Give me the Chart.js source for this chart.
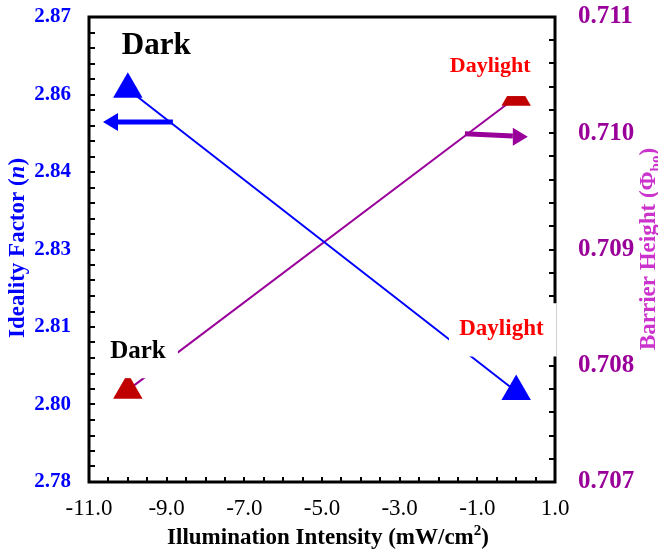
<!DOCTYPE html>
<html>
<head>
<meta charset="utf-8">
<script src="https://cdn.jsdelivr.net/npm/chart.js@4.4.1/dist/chart.umd.min.js"></script>
<style>
  body { margin: 0; background: #ffffff; }
  #wrap { width: 658px; height: 551px; }
</style>
</head>
<body>
<div id="wrap"><canvas id="illumChart" width="658" height="551"></canvas></div>
<script>
// Data Start
const intensity = [-10, 0];
const idealityFactor = [2.856, 2.7975];
const barrierHeight = [0.70779, 0.71031];

const xTicks = [-11, -9, -7, -5, -3, -1, 1];
const leftTicks = [2.78, 2.795, 2.81, 2.825, 2.84, 2.855, 2.87];
const leftTickLabels = ['2.78', '2.80', '2.81', '2.83', '2.84', '2.86', '2.87'];
const rightTicks = [0.707, 0.708, 0.709, 0.710, 0.711];

const serif = 'Liberation Serif';

// frame, inner ticks, labels and arrows
const annotationPlugin = {
  id: 'annotations',
  afterDatasetsDraw(chart) {
    const ctx = chart.ctx;
    const a = chart.chartArea;
    const x = chart.scales.x, y = chart.scales.y, y1 = chart.scales.y1;

    ctx.save();
    // frame
    ctx.strokeStyle = '#000';
    ctx.lineWidth = 3;
    ctx.strokeRect(a.left, a.top, a.right - a.left, a.bottom - a.top);

    // inner ticks
    ctx.lineWidth = 2;
    ctx.beginPath();
    for (let i = 1; i < 24; i++) {
      const px = Math.round(x.getPixelForValue(-11 + i * 0.5));
      ctx.moveTo(px, a.bottom); ctx.lineTo(px, a.bottom - 5);
    }
    for (let i = 1; i < 30; i++) {
      const py = Math.round(y.getPixelForValue(2.78 + i * 0.003));
      ctx.moveTo(a.left, py); ctx.lineTo(a.left + 6, py);
    }
    for (let i = 1; i < 20; i++) {
      const py = Math.round(y1.getPixelForValue(0.707 + i * 0.0002));
      ctx.moveTo(a.right, py); ctx.lineTo(a.right - 6, py);
    }
    ctx.stroke();

    // white boxes behind labels
    const box = (x0, x1, v0, v1) => {
      const l = x.getPixelForValue(x0), r = x.getPixelForValue(x1);
      const t = y.getPixelForValue(v0), b = y.getPixelForValue(v1);
      ctx.fillStyle = '#fff';
      ctx.fillRect(l, t, r - l, b - t);
    };
    box(-1.83, 0.61, 2.8644, 2.8547);
    box(-1.73, 1.12, 2.8146, 2.8043);
    box(-10.72, -8.71, 2.8103, 2.8001);
    ctx.strokeStyle = '#d0d0d0';
    ctx.lineWidth = 1;
    ctx.beginPath();
    ctx.moveTo(556.5, y.getPixelForValue(2.8146));
    ctx.lineTo(556.5, y.getPixelForValue(2.8043));
    ctx.stroke();

    // text labels
    const label = (txt, xv, yv, font, color) => {
      ctx.font = font;
      ctx.fillStyle = color;
      ctx.textAlign = 'center';
      ctx.textBaseline = 'middle';
      ctx.fillText(txt, x.getPixelForValue(xv), y.getPixelForValue(yv));
    };
    label('Dark', -9.27, 2.8644, 'bold 31px ' + serif, '#000');
    label('Daylight', -0.67, 2.8605, 'bold 22px ' + serif, '#ff0000');
    label('Daylight', -0.38, 2.8096, 'bold 23px ' + serif, '#ff0000');
    label('Dark', -9.74, 2.8053, 'bold 25px ' + serif, '#000');

    // arrows
    const arrow = (x0, x1, p0, p1, color) => {
      const sx = x.getPixelForValue(x0), ex = x.getPixelForValue(x1);
      const dir = Math.sign(ex - sx);
      const hx = ex - dir * 15;
      ctx.strokeStyle = color;
      ctx.fillStyle = color;
      ctx.lineWidth = 5;
      ctx.beginPath();
      ctx.moveTo(sx, p0);
      ctx.lineTo(hx, p0 + (p1 - p0) * (hx - sx) / (ex - sx));
      ctx.stroke();
      ctx.beginPath();
      ctx.moveTo(ex, p1);
      ctx.lineTo(hx, p1 - 9);
      ctx.lineTo(hx, p1 + 9);
      ctx.closePath();
      ctx.fill();
    };
    arrow(-8.84, -10.64, y.getPixelForValue(2.8497), y.getPixelForValue(2.8497), '#0000ff');
    arrow(-1.32, 0.30, y1.getPixelForValue(0.709996), y1.getPixelForValue(0.70997), '#990099');

    // axis titles
    const rich = (parts, cx, cy, rot, color) => {
      ctx.save();
      ctx.translate(cx, cy);
      ctx.rotate(rot);
      ctx.fillStyle = color;
      ctx.textAlign = 'left';
      ctx.textBaseline = 'alphabetic';
      let w = 0;
      parts.forEach(p => { ctx.font = p.font; w += ctx.measureText(p.text).width; });
      let px = -w / 2;
      parts.forEach(p => {
        ctx.font = p.font;
        ctx.fillText(p.text, px, p.dy || 0);
        px += ctx.measureText(p.text).width;
      });
      ctx.restore();
    };
    const b23 = 'bold 23px ' + serif;
    rich([
      { text: 'Illumination Intensity (mW/cm', font: b23 },
      { text: '2', font: 'bold 15px ' + serif, dy: -9 },
      { text: ')', font: b23 }
    ], 328, 544, 0, '#000');
    rich([
      { text: 'Ideality Factor (', font: b23 },
      { text: 'n', font: 'italic bold 23px ' + serif },
      { text: ')', font: b23 }
    ], 24, 248, -Math.PI / 2, '#0000ff');
    rich([
      { text: 'Barrier Height (\u03A6', font: 'bold 23px ' + serif },
      { text: 'bo', font: 'bold 15px ' + serif, dy: 5 },
      { text: ')', font: 'bold 23px ' + serif }
    ], 655, 249, -Math.PI / 2, '#cc33cc');

    ctx.restore();
  }
};

// Chart Start
const ctx = document.getElementById('illumChart').getContext('2d');
const illumChart = new Chart(ctx, {
  type: 'scatter',
  data: {
    datasets: [
      {
        label: 'Ideality Factor',
        data: intensity.map((v, i) => ({ x: v, y: idealityFactor[i] })),
        yAxisID: 'y',
        showLine: true,
        borderColor: '#0000ff',
        borderWidth: 2,
        pointStyle: 'triangle',
        pointRadius: 17,
        pointBackgroundColor: '#0000ff',
        pointBorderColor: '#0000ff',
        pointBorderWidth: 0
      },
      {
        label: 'Barrier Height',
        data: intensity.map((v, i) => ({ x: v, y: barrierHeight[i] })),
        yAxisID: 'y1',
        showLine: true,
        borderColor: '#990099',
        borderWidth: 2,
        pointStyle: 'triangle',
        pointRadius: 17,
        pointBackgroundColor: '#c00000',
        pointBorderColor: '#c00000',
        pointBorderWidth: 0
      }
    ]
  },
  options: {
    responsive: false,
    animation: false,
    layout: { padding: { top: 16, left: 0, right: 0, bottom: 0 } },
    plugins: {
      legend: { display: false },
      tooltip: { enabled: false }
    },
    scales: {
      x: {
        type: 'linear',
        min: -11,
        max: 1,
        afterBuildTicks: s => { s.ticks = xTicks.map(v => ({ value: v })); },
        afterFit: s => { s.height = 69; s.paddingLeft = 0; s.paddingRight = 0; },
        grid: { display: false, drawTicks: false },
        border: { display: false },
        ticks: {
          padding: 13,
          color: '#000',
          font: { family: serif, size: 23 },
          callback: v => v.toFixed(1)
        }
      },
      y: {
        position: 'left',
        min: 2.78,
        max: 2.87,
        afterBuildTicks: s => { s.ticks = leftTicks.map(v => ({ value: v })); },
        afterFit: s => { s.width = 89; s.paddingTop = 0; s.paddingBottom = 0; },
        grid: { display: false, drawTicks: false },
        border: { display: false },
        ticks: {
          padding: 18,
          color: '#0000ff',
          font: { family: serif, size: 21, weight: 'bold' },
          callback: (v, i) => leftTickLabels[i]
        }
      },
      y1: {
        position: 'right',
        min: 0.707,
        max: 0.711,
        afterBuildTicks: s => { s.ticks = rightTicks.map(v => ({ value: v })); },
        afterFit: s => { s.width = 103; s.paddingTop = 0; s.paddingBottom = 0; },
        grid: { display: false, drawTicks: false },
        border: { display: false },
        ticks: {
          padding: 23,
          color: '#990099',
          font: { family: serif, size: 25, weight: 'bold' },
          callback: v => v.toFixed(3)
        }
      }
    }
  },
  plugins: [annotationPlugin]
});
</script>
</body>
</html>
